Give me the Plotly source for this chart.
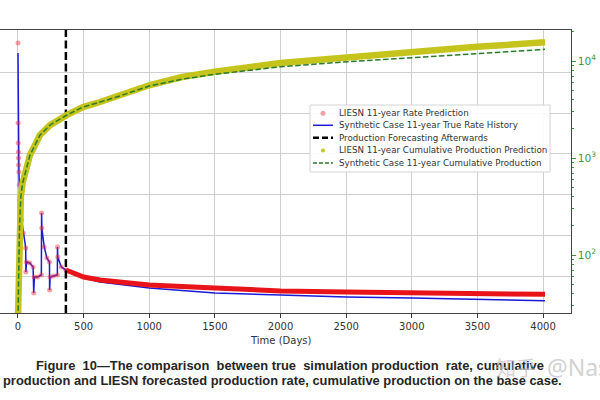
import plotly.graph_objects as go

# ---------------- data ----------------
FORECAST_START = 365  # day where forecasting begins

RATE_DAYS = [0, 1, 2, 3, 4, 5, 7, 10, 15, 28, 40, 59, 60, 65, 90, 115, 120, 125, 150,
             178, 180, 182, 200, 220, 240, 241, 245, 270, 300, 301, 303, 330, 365,
             500, 625, 1000, 1500, 2000, 2500, 3000, 3500, 4015]
RATE_TRUE = [3240, 2380, 2134, 2023, 1950, 1864, 1778, 1618, 1434, 1188, 1028, 844, 549,
             672, 660, 611, 291, 488, 488, 512, 1274, 1090, 856, 721, 672, 328, 488, 500,
             512, 856, 733, 611, 574, 475, 426, 353, 291, 267, 242, 230, 217, 197]
RATE_PRED = [3362, 2380, 2134, 2023, 1950, 1864, 1778, 1618, 1434, 1188, 1028, 844, 549,
             672, 660, 611, 291, 488, 488, 512, 1274, 1090, 856, 721, 672, 328, 488, 500,
             512, 856, 733, 611, 574, 488, 451, 389, 353, 316, 303, 291, 279, 275]

CUM_DAYS = [0, 5, 10, 15, 22, 35, 53, 91, 168, 244, 371, 495, 625, 750, 1006, 1250,
            1500, 2000, 2453, 3002, 3497, 4015]
CUM_PRED = [22, 89, 162, 258, 400, 550, 668, 1070, 1725, 2185, 2770, 3355, 3780, 4260,
            5660, 6840, 7760, 9550, 10800, 12470, 14000, 15600]
CUM_TRUE = [22, 89, 162, 258, 400, 550, 668, 1070, 1725, 2185, 2770, 3355, 3780, 4250,
            5550, 6500, 7300, 8730, 9700, 10820, 12000, 13200]

X_TICKS = [0, 500, 1000, 1500, 2000, 2500, 3000, 3500, 4000]
RATE_GRID = [500, 1000, 1500, 2000, 2500, 3000]
RATE_RANGE = [45.5, 3522]
X_RANGE = [-137, 4213]
CUM_LOG_RANGE = [1.402, 4.32]

LEGEND_NAMES = [
    "LIESN 11-year Rate Prediction",
    "Synthetic Case 11-year True Rate History",
    "Production Forecasting Afterwards",
    "LIESN 11-year Cumulative Production Prediction",
    "Synthetic Case 11-year Cumulative Production",
]
X_TITLE = "Time (Days)"
CAPTION_1 = "Figure 10\u2014The comparison between true simulation production rate, cumulative"
CAPTION_2 = "production and LIESN forecasted production rate, cumulative production on the base case."
WATERMARK_1 = "知乎"
WATERMARK_2 = "@Nas"

# ---------------- styles ----------------
C_BLUE = "#1a1ad8"
C_RED_BAND = "#e8141a"
C_RED_DOT = "rgba(240,40,60,0.45)"
C_YELLOW = "#c4c41c"
C_GREEN = "#2a7a2a"
C_TICK_GREEN = "#3a9a3a"
DASH_BLACK = "8px,3.5px"
DASH_GREEN = "5.5px,2.5px"

# plot area in screen pixels
PLOT_L, PLOT_R, PLOT_T, PLOT_B = 0, 571, 30, 313


def px(sx):
    return (sx - PLOT_L) / (PLOT_R - PLOT_L)


def py(sy):
    return (PLOT_B - sy) / (PLOT_B - PLOT_T)


hist_idx = [i for i, d in enumerate(RATE_DAYS) if d <= FORECAST_START]
fore_idx = [i for i, d in enumerate(RATE_DAYS) if d >= FORECAST_START]

fig = go.Figure()

fig.add_trace(go.Scatter(x=RATE_DAYS, y=RATE_TRUE, mode="lines", name=LEGEND_NAMES[1],
                         line=dict(color=C_BLUE, width=1.5), yaxis="y"))
fig.add_trace(go.Scatter(x=[RATE_DAYS[i] for i in fore_idx],
                         y=[RATE_PRED[i] for i in fore_idx], mode="lines",
                         name=LEGEND_NAMES[0],
                         line=dict(color=C_RED_BAND, width=5), yaxis="y"))
fig.add_trace(go.Scatter(x=[RATE_DAYS[i] for i in hist_idx],
                         y=[RATE_PRED[i] for i in hist_idx], mode="markers",
                         name=LEGEND_NAMES[0],
                         marker=dict(color=C_RED_DOT, size=5, line=dict(width=0)),
                         yaxis="y"))
fig.add_trace(go.Scatter(x=[FORECAST_START, FORECAST_START], y=RATE_RANGE, mode="lines",
                         name=LEGEND_NAMES[2],
                         line=dict(color="black", width=2.5, dash=DASH_BLACK), yaxis="y"))
fig.add_trace(go.Scatter(x=CUM_DAYS, y=CUM_PRED, mode="lines", name=LEGEND_NAMES[3],
                         line=dict(color=C_YELLOW, width=6.5), yaxis="y2"))
fig.add_trace(go.Scatter(x=CUM_DAYS, y=CUM_TRUE, mode="lines", name=LEGEND_NAMES[4],
                         line=dict(color=C_GREEN, width=1.5, dash=DASH_GREEN),
                         yaxis="y2"))

axis_font = dict(family="DejaVu Sans", size=10, color="#333333")

# ---------------- legend drawn as shapes + text ----------------
LEG_BOX = (310, 105, 550, 172)
ROW_Y = [113.3, 125.3, 137.7, 150.4, 163.0]
SYM_X0, SYM_X1, SYM_XC, TEXT_X = 313, 333, 323, 336.5

shapes = [dict(type="rect", xref="paper", yref="paper",
               x0=px(LEG_BOX[0]), x1=px(LEG_BOX[2]), y0=py(LEG_BOX[3]), y1=py(LEG_BOX[1]),
               fillcolor="rgba(255,255,255,0.9)", line=dict(color="#d4d4d4", width=1),
               layer="above")]


def dot(yc, color, r):
    return dict(type="circle", xref="paper", yref="paper",
                x0=px(SYM_XC - r), x1=px(SYM_XC + r), y0=py(yc + r), y1=py(yc - r),
                fillcolor=color, line=dict(width=0), layer="above")


def seg(yc, color, width, dash="solid"):
    return dict(type="line", xref="paper", yref="paper", x0=px(SYM_X0), x1=px(SYM_X1),
                y0=py(yc), y1=py(yc), line=dict(color=color, width=width, dash=dash),
                layer="above")


shapes += [
    dot(ROW_Y[0], C_RED_DOT, 2.5),
    seg(ROW_Y[1], C_BLUE, 1.5),
    seg(ROW_Y[2], "black", 2.5, "6px,3px"),
    dot(ROW_Y[3], C_YELLOW, 2.0),
    seg(ROW_Y[4], C_GREEN, 1.5, "4px,2px"),
]

annotations = [
    dict(text=name, xref="paper", yref="paper", x=px(TEXT_X), y=py(yc),
         xanchor="left", yanchor="middle", showarrow=False,
         font=dict(family="DejaVu Sans", size=8.7, color="#333333"))
    for name, yc in zip(LEGEND_NAMES, ROW_Y)
]

# the first caption line is justified in the source: widen every other word gap a little
words = CAPTION_1.split(" ")
caption_1_spaced = words[0]
for k, w in enumerate(words[1:]):
    caption_1_spaced += (" \u00a0" if k % 2 == 0 else " ") + w

annotations += [
    dict(text=X_TITLE, xref="paper", yref="paper", x=px(281), y=py(340),
         xanchor="center", yanchor="middle", showarrow=False, font=axis_font),
    dict(text="<b>" + caption_1_spaced + "</b>", xref="paper", yref="paper", x=px(34),
         y=py(365), xanchor="left", yanchor="middle", showarrow=False,
         font=dict(family="Liberation Sans", size=12.9, color="#262626")),
    dict(text="<b>" + CAPTION_2 + "</b>", xref="paper", yref="paper", x=px(0.5),
         y=py(380.7), xanchor="left", yanchor="middle", showarrow=False,
         font=dict(family="Liberation Sans", size=12.9, color="#262626")),
    dict(text=WATERMARK_1, xref="paper", yref="paper", x=px(494), y=py(367),
         xanchor="left", yanchor="middle", showarrow=False,
         font=dict(family="Noto Sans CJK SC", size=20, color="rgba(195,195,195,0.75)")),
    dict(text=WATERMARK_2, xref="paper", yref="paper", x=px(545), y=py(367),
         xanchor="left", yanchor="middle", showarrow=False,
         font=dict(family="Noto Sans", size=23, color="rgba(195,195,195,0.75)")),
]

fig.update_layout(
    width=600, height=400,
    margin=dict(l=0, r=29, t=30, b=87, autoexpand=False),
    paper_bgcolor="white", plot_bgcolor="white",
    showlegend=False,
    xaxis=dict(range=X_RANGE, tickvals=X_TICKS, ticks="outside", ticklen=4,
               tickcolor="#333333", tickfont=axis_font, showgrid=True,
               gridcolor="#cfcfcf", gridwidth=1, zeroline=False, showline=True,
               linecolor="#444444", linewidth=1, mirror=True, automargin=False),
    yaxis=dict(range=RATE_RANGE, tickvals=RATE_GRID, showticklabels=False, ticks="",
               showgrid=True, gridcolor="#cfcfcf", gridwidth=1, zeroline=False,
               showline=False, automargin=False),
    yaxis2=dict(type="log", range=CUM_LOG_RANGE, overlaying="y", side="right",
                showgrid=False, zeroline=False, showline=True, linecolor="#444444",
                linewidth=1, ticks="outside", ticklen=4, tickcolor=C_TICK_GREEN,
                dtick=1, exponentformat="power",
                tickfont=dict(family="DejaVu Sans", size=8.5, color=C_TICK_GREEN),
                minor=dict(ticks="outside", ticklen=2, tickcolor=C_TICK_GREEN,
                           showgrid=False),
                automargin=False),
    shapes=shapes,
    annotations=annotations,
)

# remove the default 8px page margin so the 600x400 figure fills the window exactly
fig.write_html("out.html", config={"displayModeBar": False},
               post_script="document.body.style.margin='0px';")
